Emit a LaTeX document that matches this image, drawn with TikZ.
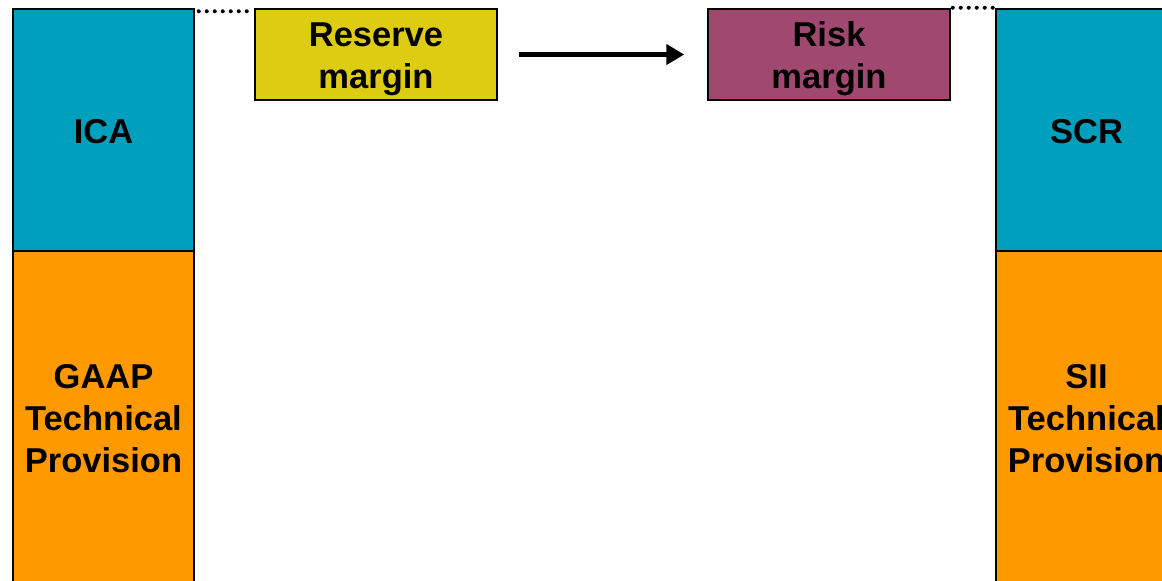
\documentclass[tikz,border=0pt]{standalone}
\usepackage{fontspec}
\setmainfont{Liberation Sans}
\usetikzlibrary{arrows.meta}
\definecolor{teal}{HTML}{009FBD}
\definecolor{orng}{HTML}{FF9900}
\definecolor{ylw}{HTML}{DDCC11}
\definecolor{plum}{HTML}{A0486F}
\tikzset{
  blk/.style={draw=black, line width=1.5pt, inner sep=0pt},
  lbl/.style={inner sep=0pt, align=center,
    font=\bfseries\fontsize{34.5}{42}\selectfont, text=black},
  dotline/.style={line width=4pt, line cap=round, dash pattern=on 0pt off 8pt},
  bigarrow/.style={line width=5.5pt, -{Triangle[length=18pt,width=20pt]}}
}
\begin{document}
\begin{tikzpicture}[x=1pt,y=-1pt]
\useasboundingbox (0,0) rectangle (1162,581);
\clip (0,0) rectangle (1162,581);
\node[blk, fill=teal, minimum width=181pt, minimum height=242pt] (ica) at (103.5,130) {};
\node[blk, fill=orng, minimum width=181pt, minimum height=334pt] (gaap) at (103.5,418) {};
\node[blk, fill=teal, minimum width=181pt, minimum height=242pt] (scr) at (1086.5,130) {};
\node[blk, fill=orng, minimum width=181pt, minimum height=334pt] (sii) at (1086.5,418) {};
\node[blk, fill=ylw, minimum width=242pt, minimum height=91pt] (res) at (376,54.5) {};
\node[blk, fill=plum, minimum width=242pt, minimum height=91pt] (risk) at (829,54.5) {};
\node[lbl] (icat) at ([yshift=-2pt]ica.center) {ICA};
\node[lbl] (gaapt) at ([yshift=-1pt]gaap.center) {GAAP\\Technical\\Provision};
\node[lbl] (scrt) at ([yshift=-2pt]scr.center) {SCR};
\node[lbl] (siit) at ([yshift=-1pt]sii.center) {SII\\Technical\\Provision};
\node[lbl] (rest) at ([yshift=-4.5pt]res.center) {Reserve\\margin};
\node[lbl] (riskt) at ([yshift=-4.5pt]risk.center) {Risk\\margin};
\draw[dotline] ([xshift=4pt,yshift=-3pt]ica.north east) -- ([xshift=-2pt,yshift=-3pt]res.north west);
\draw[dotline] ([xshift=2pt,yshift=0.5pt]risk.north east) -- ([xshift=-2pt,yshift=0.5pt]scr.north west);
\draw[bigarrow] ([xshift=21pt]res.east) -- ([xshift=-23pt]risk.west);
\end{tikzpicture}
\end{document}
